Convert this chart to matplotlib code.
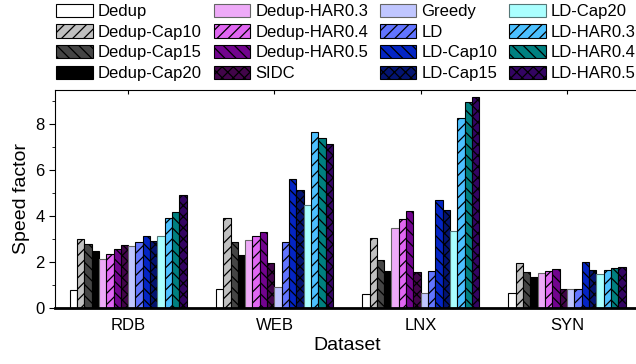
import numpy as np
import matplotlib.pyplot as plt
from matplotlib.ticker import MultipleLocator

plt.rcParams["font.family"] = ["Liberation Sans", "DejaVu Sans"]
plt.rcParams["hatch.linewidth"] = 0.9

# Data
datasets = ["RDB", "WEB", "LNX", "SYN"]
methods = [
    "Dedup", "Dedup-Cap10", "Dedup-Cap15", "Dedup-Cap20",
    "Dedup-HAR0.3", "Dedup-HAR0.4", "Dedup-HAR0.5", "SIDC",
    "Greedy", "LD", "LD-Cap10", "LD-Cap15",
    "LD-Cap20", "LD-HAR0.3", "LD-HAR0.4", "LD-HAR0.5",
]
rdb = [0.80, 3.00, 2.77, 2.50, 2.13, 2.35, 2.58, 2.74,
       2.72, 2.87, 3.13, 2.93, 3.12, 3.90, 4.18, 4.90]
web = [0.82, 3.90, 2.89, 2.32, 2.95, 3.15, 3.30, 1.94,
       0.90, 2.87, 5.61, 5.14, 4.49, 7.68, 7.39, 7.14]
lnx = [0.60, 3.06, 2.11, 1.62, 3.48, 3.89, 4.23, 1.57,
       0.64, 1.60, 4.70, 4.27, 3.35, 8.26, 8.96, 9.21]
syn = [0.67, 1.95, 1.56, 1.36, 1.53, 1.60, 1.70, 0.83,
       0.82, 0.82, 2.01, 1.66, 1.47, 1.67, 1.76, 1.78]

# Style per method
colors = [
    "#ffffff", "#c0c0c0", "#454545", "#000000",
    "#eeaaf8", "#e066f2", "#72048e", "#42054a",
    "#c0c6ff", "#6275ff", "#0425c4", "#041470",
    "#aaffff", "#4cc0ff", "#008080", "#330462",
]
hatches = ["", "///", "\\\\\\", "",
           "", "///", "\\\\\\", "xxx",
           "", "///", "\\\\\\", "xxx",
           "", "///", "\\\\\\", "xxx"]
edges = ["#000000", "#000000", "#000000", "#000000",
         "#666666", "#000000", "#000000", "#000000",
         "#666666", "#000000", "#000000", "#000000",
         "#557777", "#000000", "#000000", "#000000"]

values = np.array([rdb, web, lnx, syn])  # shape (dataset, method)

fig = plt.figure(figsize=(6.36, 3.64), dpi=100)
ax = fig.add_axes([0.0865, 0.154, 0.92, 0.599])

x = np.arange(len(datasets))
width = 0.05
n = len(methods)
for i, m in enumerate(methods):
    ax.bar(
        x + (i - (n - 1) / 2) * width,
        values[:, i],
        width,
        color=colors[i],
        edgecolor=edges[i],
        hatch=hatches[i],
        linewidth=0.8,
        label=m,
    )

ax.set_xlim(-0.5, 3.5)
ax.set_ylim(0, 9.5)
ax.set_xticks(x)
ax.set_xticklabels(datasets, fontsize=12)
ax.yaxis.set_major_locator(MultipleLocator(2))
ax.yaxis.set_minor_locator(MultipleLocator(1))
ax.tick_params(axis="y", which="major", labelsize=12, length=4, direction="out")
ax.tick_params(axis="y", which="minor", length=2, direction="out")
ax.tick_params(axis="x", bottom=False, top=True, labelbottom=True,
               direction="in", length=3, pad=7)
ax.spines["bottom"].set_linewidth(2)
ax.set_ylabel("Speed factor", fontsize=14, labelpad=4)
ax.set_xlabel("Dataset", fontsize=14, labelpad=3)

fig.legend(
    loc="upper left",
    bbox_to_anchor=(0.078, 1.008),
    ncol=4,
    fontsize=12,
    frameon=False,
    handlelength=2.2,
    handleheight=0.85,
    handletextpad=0.3,
    labelspacing=0.31,
    columnspacing=0.7,
    borderaxespad=0,
)

plt.savefig("out.png", dpi=100)
